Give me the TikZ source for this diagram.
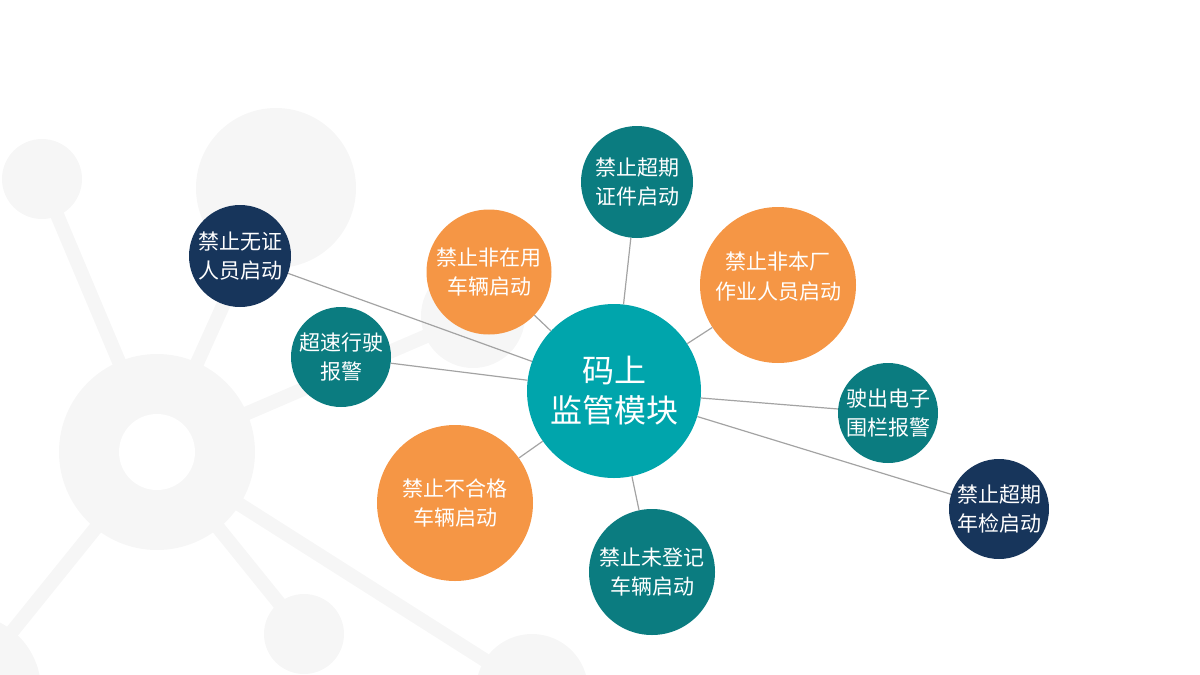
\documentclass[tikz,border=0pt]{standalone}
\usepackage{fontspec}
\newfontfamily\cjk{Noto Sans CJK SC}
\definecolor{hubteal}{HTML}{00A5AC}
\definecolor{darkteal}{HTML}{0B7C80}
\definecolor{navyblue}{HTML}{17355B}
\definecolor{bubbleorange}{HTML}{F59645}
\definecolor{molgray}{HTML}{F6F6F6}
\definecolor{linkgray}{HTML}{A3A3A3}
\tikzset{
  bubble/.style={circle, inner sep=0pt, text=white, align=center, font=\cjk\fontsize{21}{29}\selectfont},
  bubbletext/.style={text=white, align=center, font=\cjk\fontsize{21}{30}\selectfont},
  link/.style={draw=linkgray, line width=1.2pt},
  molbar/.style={draw=molgray, line width=14pt},
}

\begin{document}
\begin{tikzpicture}[x=1pt, y=-1pt]
			%%%%% START %%%%%
			
			\useasboundingbox (0, 0) rectangle (1200, 675);
			\clip (0, 0) rectangle (1200, 675);
			
			% molecule in the background
			\draw[molbar] (157, 452) -- (42, 179);
			\draw[molbar] (157, 452) -- (276, 188);
			\draw[molbar] (157, 452) -- (473, 316);
			\draw[molbar] (157, 452) -- (-35, 690);
			\draw[molbar] (157, 452) -- (304, 634);
			\draw[molbar] (157, 452) -- (532, 690);
			
			\fill[molgray] (157, 452) circle (98);
			\fill[white] (157, 452) circle (38);
			\fill[molgray] (42, 179) circle (40);
			\fill[molgray] (276, 188) circle (80);
			\fill[molgray] (473, 316) circle (52);
			\fill[molgray] (-35, 690) circle (76);
			\fill[molgray] (304, 634) circle (40);
			\fill[molgray] (532, 690) circle (56);
			
			% bubbles
			\node[bubble, fill=hubteal, minimum size=174pt, font=\cjk\fontsize{32}{40}\selectfont] (hub) at (614, 391) {码上\\监管模块};
			
			\node[bubble, fill=darkteal, minimum size=112pt] (zhengjian) at (637, 182) {禁止超期\\证件启动};
			\node[bubble, fill=bubbleorange, minimum size=156pt, label={[bubbletext, yshift=8]center:禁止非本厂\\作业人员启动}] (benchang) at (778, 285) {};
			\node[bubble, fill=bubbleorange, minimum size=125pt] (zaiyong) at (489, 272) {禁止非在用\\车辆启动};
			\node[bubble, fill=navyblue, minimum size=102pt] (wuzheng) at (240, 256) {禁止无证\\人员启动};
			\node[bubble, fill=darkteal, minimum size=100pt] (chaosu) at (341, 357) {超速行驶\\报警};
			\node[bubble, fill=bubbleorange, minimum size=156pt] (buhege) at (455, 503) {禁止不合格\\车辆启动};
			\node[bubble, fill=darkteal, minimum size=126pt] (dengji) at (652, 572) {禁止未登记\\车辆启动};
			\node[bubble, fill=darkteal, minimum size=100pt] (weilan) at (888, 413) {驶出电子\\围栏报警};
			\node[bubble, fill=navyblue, minimum size=100pt] (nianjian) at (999, 509) {禁止超期\\年检启动};
			
			% links
			\draw[link] (hub) -- (zhengjian);
			\draw[link] (hub) -- (benchang);
			\draw[link] (hub) -- (zaiyong);
			\draw[link] (hub) -- (wuzheng);
			\draw[link] (hub) -- (chaosu);
			\draw[link] (hub) -- (buhege);
			\draw[link] (hub) -- (dengji);
			\draw[link] (hub) -- (weilan);
			\draw[link] (hub) -- (nianjian);
			
			%%%%% END %%%%%
\end{tikzpicture}
\end{document}
